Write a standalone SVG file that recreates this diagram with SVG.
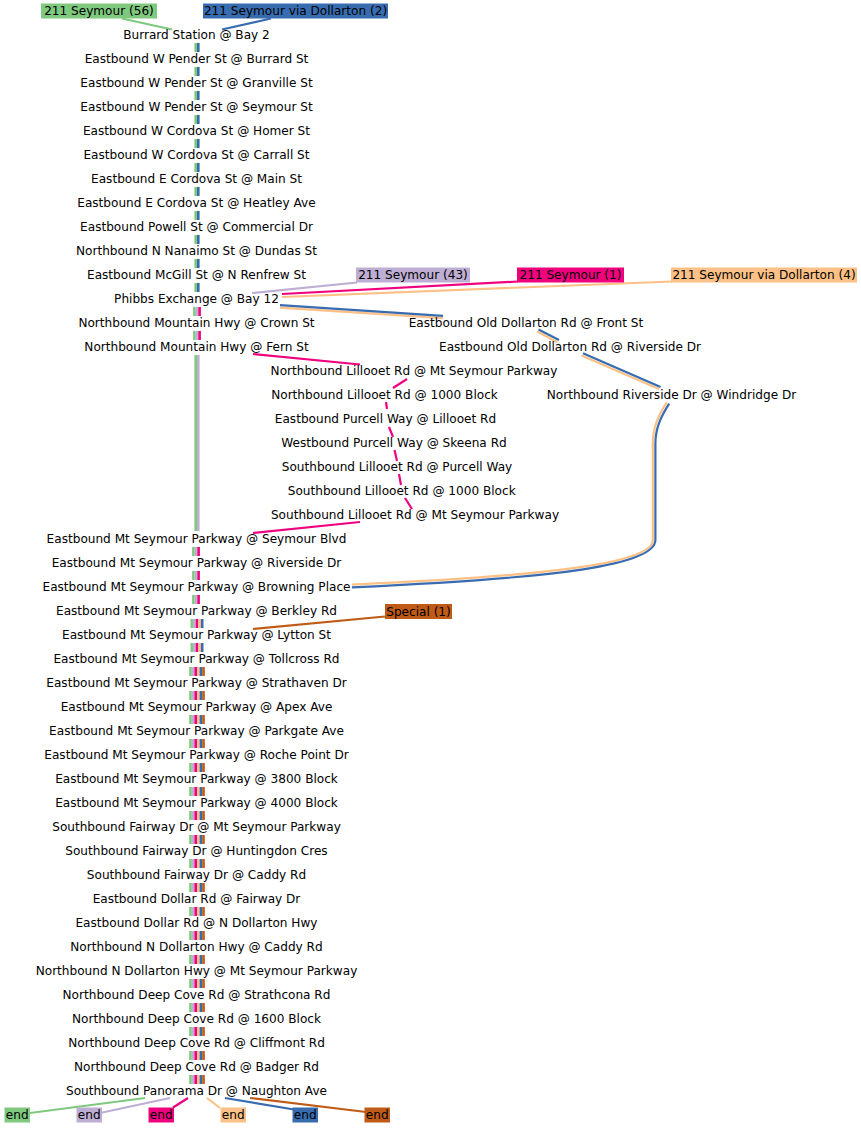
<svg xmlns="http://www.w3.org/2000/svg" width="861" height="1128" viewBox="0 0 861 1128">
<style>
text{font-family:"DejaVu Sans","Liberation Sans",sans-serif;font-size:12.1px;fill:#000}
.stop text{text-anchor:middle}
.lbl text{text-anchor:middle}
.e{fill:none;stroke-width:2.2;stroke-linecap:butt}
.s{fill:none;stroke-width:2.6}
.g{stroke:#7fc97f}.l{stroke:#beaed4}.p{stroke:#f0027f}.o{stroke:#fdc086}.b{stroke:#386cb0}.r{stroke:#bf5b17}
.fg{fill:#7fc97f}.fl{fill:#beaed4}.fp{fill:#f0027f}.fo{fill:#fdc086}.fb{fill:#386cb0}.fr{fill:#bf5b17}
</style>
<rect width="861" height="1128" fill="#fff"/>
<g id="connectors">
<g id="trunk1">
<path class="s g" d="M195.7,43V52M195.7,67V76M195.7,91V100M195.7,115V124M195.7,139V148M195.7,163V172M195.7,187V196M195.7,211V220M195.7,235V244M195.7,259V268M195.7,283V292"/>
<path class="s b" d="M198.3,43V52M198.3,67V76M198.3,91V100M198.3,115V124M198.3,139V148M198.3,163V172M198.3,187V196M198.3,211V220M198.3,235V244M198.3,259V268M198.3,283V292"/>
</g>
<g id="trunk2">
<path class="s g" d="M194.4,307V316M194.4,331V340M193.4,547V556M193.4,571V580M193.4,595V604"/>
<path class="s l" d="M197,307V316M197,331V340M196,547V556M196,571V580M196,595V604"/>
<path class="s p" d="M199.6,307V316M199.6,331V340M198.6,547V556M198.6,571V580M198.6,595V604"/>
<path class="s g" d="M195.7,355V531"/>
<path class="s l" d="M198.3,355V531"/>
</g>
<g id="trunk5">
<path class="s g" d="M191.8,619V628M191.8,643V652"/>
<path class="s l" d="M194.4,619V628M194.4,643V652"/>
<path class="s p" d="M197,619V628M197,643V652"/>
<path class="s o" d="M199.6,619V628M199.6,643V652"/>
<path class="s b" d="M202.2,619V628M202.2,643V652"/>
</g>
<g id="trunk6">
<path class="s g" d="M190.5,667V676M190.5,691V700M190.5,715V724M190.5,739V748M190.5,763V772M190.5,787V796M190.5,811V820M190.5,835V844M190.5,859V868M190.5,883V892M190.5,907V916M190.5,931V940M190.5,955V964M190.5,979V988M190.5,1003V1012M190.5,1027V1036M190.5,1051V1060M190.5,1075V1084"/>
<path class="s l" d="M193.1,667V676M193.1,691V700M193.1,715V724M193.1,739V748M193.1,763V772M193.1,787V796M193.1,811V820M193.1,835V844M193.1,859V868M193.1,883V892M193.1,907V916M193.1,931V940M193.1,955V964M193.1,979V988M193.1,1003V1012M193.1,1027V1036M193.1,1051V1060M193.1,1075V1084"/>
<path class="s p" d="M195.7,667V676M195.7,691V700M195.7,715V724M195.7,739V748M195.7,763V772M195.7,787V796M195.7,811V820M195.7,835V844M195.7,859V868M195.7,883V892M195.7,907V916M195.7,931V940M195.7,955V964M195.7,979V988M195.7,1003V1012M195.7,1027V1036M195.7,1051V1060M195.7,1075V1084"/>
<path class="s o" d="M198.3,667V676M198.3,691V700M198.3,715V724M198.3,739V748M198.3,763V772M198.3,787V796M198.3,811V820M198.3,835V844M198.3,859V868M198.3,883V892M198.3,907V916M198.3,931V940M198.3,955V964M198.3,979V988M198.3,1003V1012M198.3,1027V1036M198.3,1051V1060M198.3,1075V1084"/>
<path class="s b" d="M200.9,667V676M200.9,691V700M200.9,715V724M200.9,739V748M200.9,763V772M200.9,787V796M200.9,811V820M200.9,835V844M200.9,859V868M200.9,883V892M200.9,907V916M200.9,931V940M200.9,955V964M200.9,979V988M200.9,1003V1012M200.9,1027V1036M200.9,1051V1060M200.9,1075V1084"/>
<path class="s r" d="M203.5,667V676M203.5,691V700M203.5,715V724M203.5,739V748M203.5,763V772M203.5,787V796M203.5,811V820M203.5,835V844M203.5,859V868M203.5,883V892M203.5,907V916M203.5,931V940M203.5,955V964M203.5,979V988M203.5,1003V1012M203.5,1027V1036M203.5,1051V1060M203.5,1075V1084"/>
</g>
<path class="e g" d="M122,18.5L172,29.5"/>
<path class="e b" d="M271,18.5L222,29.5"/>
<path class="e l" d="M357,282.5L252,293"/>
<path class="e p" d="M518,281.5L282,294"/>
<path class="e o" d="M672,281.5L282,297"/>
<path class="e o" d="M280,307.6L443,318.2"/>
<path class="e b" d="M280,305.2L443,315.8"/>
<path class="e o" d="M537,331.6L557,342"/>
<path class="e b" d="M538.5,329.6L559,340"/>
<path class="e o" d="M581.5,355.5L659,389"/>
<path class="e b" d="M583,353.3L660.5,387"/>
<path class="e o" d="M666.8,402.3C658.5,415 652.8,427 652.8,444L652.8,540C652.8,562 560,575.5 352,584.6"/>
<path class="e b" d="M669.2,403.7C661,416.5 655.4,428 655.4,444L655.4,540C655.4,565 560,578 352,587.3"/>
<path class="e p" d="M253,354L360,364.5"/>
<path class="e p" d="M407,379L393,388"/>
<path class="e p" d="M386,402L387,409"/>
<path class="e p" d="M389,427L393,437"/>
<path class="e p" d="M394.5,450L397,461"/>
<path class="e p" d="M399,474L401,485"/>
<path class="e p" d="M405,498L412,509"/>
<path class="e p" d="M360,522L253,533"/>
<path class="e r" d="M385,616.5L253,629"/>
<path class="e g" d="M145,1098L30,1113"/>
<path class="e l" d="M170,1098L100,1113"/>
<path class="e p" d="M188,1098L173,1107.5"/>
<path class="e o" d="M207,1098L220,1108"/>
<path class="e b" d="M225,1098L297,1110"/>
<path class="e r" d="M250,1098L366,1112"/>
</g>
<g id="route-labels" class="lbl">
<g id="r-green56"><rect class="fg" x="41" y="3.5" width="116" height="15"/><text x="99" y="15">211 Seymour (56)</text></g>
<g id="r-blue2"><rect class="fb" x="203" y="3.5" width="185" height="15"/><text x="295.5" y="15">211 Seymour via Dollarton (2)</text></g>
<g id="r-lav43"><rect class="fl" x="356" y="267.5" width="114" height="15"/><text x="413" y="279">211 Seymour (43)</text></g>
<g id="r-pink1"><rect class="fp" x="517" y="267.5" width="107" height="15"/><text x="570.5" y="279">211 Seymour (1)</text></g>
<g id="r-orange4"><rect class="fo" x="671" y="267.5" width="186" height="15"/><text x="764" y="279">211 Seymour via Dollarton (4)</text></g>
<g id="r-special"><rect class="fr" x="385" y="604" width="67" height="15"/><text x="418.5" y="615.5">Special (1)</text></g>
<g id="end-green"><rect class="fg" x="4.5" y="1107.5" width="25.5" height="15"/><text x="17.2" y="1119">end</text></g>
<g id="end-lav"><rect class="fl" x="76.5" y="1107.5" width="25.5" height="15"/><text x="89.2" y="1119">end</text></g>
<g id="end-pink"><rect class="fp" x="148.5" y="1107.5" width="25.5" height="15"/><text x="161.2" y="1119">end</text></g>
<g id="end-orange"><rect class="fo" x="220.5" y="1107.5" width="25.5" height="15"/><text x="233.2" y="1119">end</text></g>
<g id="end-blue"><rect class="fb" x="292.5" y="1107.5" width="25.5" height="15"/><text x="305.2" y="1119">end</text></g>
<g id="end-brown"><rect class="fr" x="364.5" y="1107.5" width="25.5" height="15"/><text x="377.2" y="1119">end</text></g>
</g>
<g id="stops" class="stop">
<g id="s1"><text x="196.5" y="38.6">Burrard Station @ Bay 2</text></g>
<g id="s2"><text x="196.5" y="62.6">Eastbound W Pender St @ Burrard St</text></g>
<g id="s3"><text x="196.5" y="86.6">Eastbound W Pender St @ Granville St</text></g>
<g id="s4"><text x="196.5" y="110.6">Eastbound W Pender St @ Seymour St</text></g>
<g id="s5"><text x="196.5" y="134.6">Eastbound W Cordova St @ Homer St</text></g>
<g id="s6"><text x="196.5" y="158.6">Eastbound W Cordova St @ Carrall St</text></g>
<g id="s7"><text x="196.5" y="182.6">Eastbound E Cordova St @ Main St</text></g>
<g id="s8"><text x="196.5" y="206.6">Eastbound E Cordova St @ Heatley Ave</text></g>
<g id="s9"><text x="196.5" y="230.6">Eastbound Powell St @ Commercial Dr</text></g>
<g id="s10"><text x="196.5" y="254.6">Northbound N Nanaimo St @ Dundas St</text></g>
<g id="s11"><text x="196.5" y="278.6">Eastbound McGill St @ N Renfrew St</text></g>
<g id="s12"><text x="196.5" y="302.6">Phibbs Exchange @ Bay 12</text></g>
<g id="s13"><text x="196.5" y="326.6">Northbound Mountain Hwy @ Crown St</text></g>
<g id="s14"><text x="196.5" y="350.6">Northbound Mountain Hwy @ Fern St</text></g>
<g id="d1"><text x="526" y="326.6">Eastbound Old Dollarton Rd @ Front St</text></g>
<g id="d2"><text x="570" y="350.6">Eastbound Old Dollarton Rd @ Riverside Dr</text></g>
<g id="d3"><text x="671.5" y="398.6">Northbound Riverside Dr @ Windridge Dr</text></g>
<g id="l1"><text x="414" y="374.6">Northbound Lillooet Rd @ Mt Seymour Parkway</text></g>
<g id="l2"><text x="384.5" y="398.6">Northbound Lillooet Rd @ 1000 Block</text></g>
<g id="l3"><text x="385.5" y="422.6">Eastbound Purcell Way @ Lillooet Rd</text></g>
<g id="l4"><text x="394" y="446.6">Westbound Purcell Way @ Skeena Rd</text></g>
<g id="l5"><text x="397" y="470.6">Southbound Lillooet Rd @ Purcell Way</text></g>
<g id="l6"><text x="401.7" y="494.6">Southbound Lillooet Rd @ 1000 Block</text></g>
<g id="l7"><text x="415" y="518.6">Southbound Lillooet Rd @ Mt Seymour Parkway</text></g>
<g id="s15"><text x="196.5" y="542.6">Eastbound Mt Seymour Parkway @ Seymour Blvd</text></g>
<g id="s16"><text x="196.5" y="566.6">Eastbound Mt Seymour Parkway @ Riverside Dr</text></g>
<g id="s17"><text x="196.5" y="590.6">Eastbound Mt Seymour Parkway @ Browning Place</text></g>
<g id="s18"><text x="196.5" y="614.6">Eastbound Mt Seymour Parkway @ Berkley Rd</text></g>
<g id="s19"><text x="196.5" y="638.6">Eastbound Mt Seymour Parkway @ Lytton St</text></g>
<g id="s20"><text x="196.5" y="662.6">Eastbound Mt Seymour Parkway @ Tollcross Rd</text></g>
<g id="s21"><text x="196.5" y="686.6">Eastbound Mt Seymour Parkway @ Strathaven Dr</text></g>
<g id="s22"><text x="196.5" y="710.6">Eastbound Mt Seymour Parkway @ Apex Ave</text></g>
<g id="s23"><text x="196.5" y="734.6">Eastbound Mt Seymour Parkway @ Parkgate Ave</text></g>
<g id="s24"><text x="196.5" y="758.6">Eastbound Mt Seymour Parkway @ Roche Point Dr</text></g>
<g id="s25"><text x="196.5" y="782.6">Eastbound Mt Seymour Parkway @ 3800 Block</text></g>
<g id="s26"><text x="196.5" y="806.6">Eastbound Mt Seymour Parkway @ 4000 Block</text></g>
<g id="s27"><text x="196.5" y="830.6">Southbound Fairway Dr @ Mt Seymour Parkway</text></g>
<g id="s28"><text x="196.5" y="854.6">Southbound Fairway Dr @ Huntingdon Cres</text></g>
<g id="s29"><text x="196.5" y="878.6">Southbound Fairway Dr @ Caddy Rd</text></g>
<g id="s30"><text x="196.5" y="902.6">Eastbound Dollar Rd @ Fairway Dr</text></g>
<g id="s31"><text x="196.5" y="926.6">Eastbound Dollar Rd @ N Dollarton Hwy</text></g>
<g id="s32"><text x="196.5" y="950.6">Northbound N Dollarton Hwy @ Caddy Rd</text></g>
<g id="s33"><text x="196.5" y="974.6">Northbound N Dollarton Hwy @ Mt Seymour Parkway</text></g>
<g id="s34"><text x="196.5" y="998.6">Northbound Deep Cove Rd @ Strathcona Rd</text></g>
<g id="s35"><text x="196.5" y="1022.6">Northbound Deep Cove Rd @ 1600 Block</text></g>
<g id="s36"><text x="196.5" y="1046.6">Northbound Deep Cove Rd @ Cliffmont Rd</text></g>
<g id="s37"><text x="196.5" y="1070.6">Northbound Deep Cove Rd @ Badger Rd</text></g>
<g id="s38"><text x="196.5" y="1094.6">Southbound Panorama Dr @ Naughton Ave</text></g>
</g>
</svg>
